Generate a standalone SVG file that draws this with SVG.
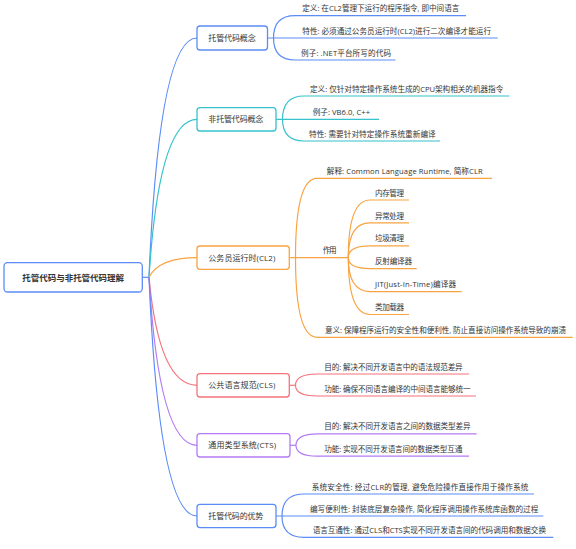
<svg xmlns="http://www.w3.org/2000/svg" width="576" height="549" viewBox="0 0 576 549">
<style>
text{font-family:"Open Sans","Noto Sans CJK SC",sans-serif;fill:#333;}
.leaf{font-size:7.6px;}
.l1{font-size:8px;}
.root{font-size:8.5px;font-weight:bold;}
.box{fill:#fff;stroke-width:1.3;}
.ln{fill:none;stroke-width:1.2;}
.blue{stroke:#5B8CF7;}
.teal{stroke:#35C2CC;}
.orange{stroke:#F9A442;}
.red{stroke:#F5737C;}
.purple{stroke:#B37BF4;}
</style>
<rect width="576" height="549" fill="#fff"/>
<g id="connectors">
  <path class="ln blue" d="M142.3,277.3 H149"/>
  <path class="ln blue" d="M149,277.3 Q159,38 197,38"/>
  <path class="ln teal" d="M149,277.3 Q159,119.3 197,119.3"/>
  <path class="ln orange" d="M149,277.3 Q159,257.7 197,257.7"/>
  <path class="ln red" d="M149,277.3 Q159,385.3 197,385.3"/>
  <path class="ln purple" d="M149,277.3 Q159,445.3 197,445.3"/>
  <path class="ln blue" d="M149,277.3 Q159,516 197,516"/>
  <!-- N1 -->
  <path class="ln blue" d="M267.5,38 H497.7"/>
  <path class="ln blue" d="M273.5,38 Q273.5,15.7 295,15.7 H466"/>
  <path class="ln blue" d="M273.5,38 Q273.5,60 295,60 H395.5"/>
  <!-- N2 -->
  <path class="ln teal" d="M276,119.3 H379"/>
  <path class="ln teal" d="M282.5,119.3 Q282.5,96 304,96 H509.3"/>
  <path class="ln teal" d="M282.5,119.3 Q282.5,141 304,141 H440"/>
  <!-- N3 -->
  <path class="ln orange" d="M289.3,257.6 H348.3"/>
  <path class="ln orange" d="M295.5,257.6 Q295.5,178.3 317,178.3 H492"/>
  <path class="ln orange" d="M295.5,257.6 Q295.5,337.3 317,337.3 H572.7"/>
  <path class="ln orange" d="M348.3,257.6 Q348.3,200 370,200 H409"/>
  <path class="ln orange" d="M348.3,257.6 Q348.3,222.9 370,222.9 H409"/>
  <path class="ln orange" d="M348.3,257.6 Q348.3,245.8 370,245.8 H409"/>
  <path class="ln orange" d="M348.3,257.6 Q348.3,268.7 370,268.7 H416.7"/>
  <path class="ln orange" d="M348.3,257.6 Q348.3,291.6 370,291.6 H461.7"/>
  <path class="ln orange" d="M348.3,257.6 Q348.3,314.5 370,314.5 H409"/>
  <!-- N4 -->
  <path class="ln red" d="M289.3,385.3 H295.5"/>
  <path class="ln red" d="M295.5,385.3 Q295.5,374 317,374 H469"/>
  <path class="ln red" d="M295.5,385.3 Q295.5,396 317,396 H476"/>
  <!-- N5 -->
  <path class="ln purple" d="M290,445.3 H296"/>
  <path class="ln purple" d="M296,445.3 Q296,433.8 317.5,433.8 H476.7"/>
  <path class="ln purple" d="M296,445.3 Q296,456.2 317.5,456.2 H469"/>
  <!-- N6 -->
  <path class="ln blue" d="M276,516 H543.3"/>
  <path class="ln blue" d="M282,516 Q282,494 304,494 H534"/>
  <path class="ln blue" d="M282,516 Q282,537.3 304,537.3 H553.3"/>
</g>
<g id="root">
  <rect class="box blue" x="4" y="262.7" width="138.3" height="29.3" rx="3.5"/>
  <text class="root" x="22.3" y="280.5" textLength="101.7">托管代码与非托管代码理解</text>
</g>
<g id="n1">
  <rect class="box blue" x="197" y="26" width="70.5" height="24" rx="3"/>
  <text class="l1" x="208.3" y="41" textLength="47.4">托管代码概念</text>
</g>
<g id="n1-leaves">
  <text class="leaf" x="302.3" y="11.3" textLength="157">定义: 在CL2管理下运行的程序指令, 即中间语言</text>
  <text class="leaf" x="302.3" y="33.6" textLength="188.7">特性: 必须通过公务员运行时(CL2)进行二次编译才能运行</text>
  <text class="leaf" x="301" y="55.6" textLength="90">例子: .NET平台所写的代码</text>
</g>
<g id="n2">
  <rect class="box teal" x="197" y="107.7" width="79" height="23.3" rx="3"/>
  <text class="l1" x="208.3" y="122.3" textLength="55">非托管代码概念</text>
</g>
<g id="n2-leaves">
  <text class="leaf" x="310" y="91.6" textLength="193.3">定义: 仅针对特定操作系统生成的CPU架构相关的机器指令</text>
  <text class="leaf" x="312.7" y="114.8" textLength="57.3">例子: VB6.0, C++</text>
  <text class="leaf" x="309" y="136.6" textLength="126.7">特性: 需要针对特定操作系统重新编译</text>
</g>
<g id="n3">
  <rect class="box orange" x="197" y="246" width="92.3" height="23.3" rx="3"/>
  <text class="l1" x="208.3" y="260.7" textLength="67">公务员运行时(CL2)</text>
</g>
<g id="n3-leaves">
  <text class="leaf" x="326.7" y="173.9" textLength="156">解释: Common Language Runtime, 简称CLR</text>
  <text class="leaf" x="322.7" y="253.2" textLength="14">作用</text>
  <text class="leaf" x="375" y="195.6" textLength="29">内存管理</text>
  <text class="leaf" x="375" y="218.5" textLength="29">异常处理</text>
  <text class="leaf" x="375" y="241.4" textLength="29">垃圾清理</text>
  <text class="leaf" x="375" y="264.3" textLength="37">反射编译器</text>
  <text class="leaf" x="375" y="287.2" textLength="81">JIT(Just-In-Time)编译器</text>
  <text class="leaf" x="375" y="310.1" textLength="29">类加载器</text>
  <text class="leaf" x="325" y="332.9" textLength="241">意义: 保障程序运行的安全性和便利性, 防止直接访问操作系统导致的崩溃</text>
</g>
<g id="n4">
  <rect class="box red" x="197" y="373.7" width="92.3" height="23.3" rx="3"/>
  <text class="l1" x="208.3" y="388.3" textLength="67">公共语言规范(CLS)</text>
</g>
<g id="n4-leaves">
  <text class="leaf" x="324.3" y="369.6" textLength="138.4">目的: 解决不同开发语言中的语法规范差异</text>
  <text class="leaf" x="324.3" y="391.6" textLength="146.4">功能: 确保不同语言编译的中间语言能够统一</text>
</g>
<g id="n5">
  <rect class="box purple" x="197" y="433.7" width="93" height="23.3" rx="3"/>
  <text class="l1" x="208.3" y="448.3" textLength="67.7">通用类型系统(CTS)</text>
</g>
<g id="n5-leaves">
  <text class="leaf" x="324.3" y="429.4" textLength="146.4">目的: 解决不同开发语言之间的数据类型差异</text>
  <text class="leaf" x="324.3" y="451.8" textLength="138">功能: 实现不同开发语言间的数据类型互通</text>
</g>
<g id="n6">
  <rect class="box blue" x="197" y="504.3" width="79" height="23.3" rx="3"/>
  <text class="l1" x="208.3" y="519" textLength="55">托管代码的优势</text>
</g>
<g id="n6-leaves">
  <text class="leaf" x="311.7" y="489.6" textLength="216.6">系统安全性: 经过CLR的管理, 避免危险操作直接作用于操作系统</text>
  <text class="leaf" x="310" y="511.6" textLength="228.3">编写便利性: 封装底层复杂操作, 简化程序调用操作系统库函数的过程</text>
  <text class="leaf" x="312.7" y="532.9" textLength="233.3">语言互通性: 通过CLS和CTS实现不同开发语言间的代码调用和数据交换</text>
</g>
</svg>
